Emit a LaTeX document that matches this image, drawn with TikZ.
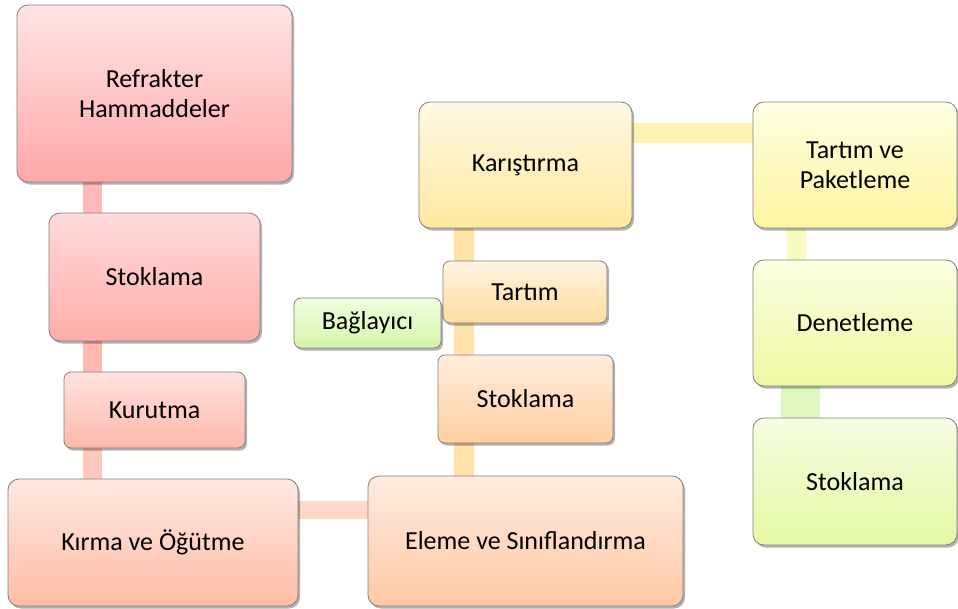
\documentclass[tikz,border=0pt]{standalone}
\usepackage{fontspec}
\setmainfont{Carlito}
\usepackage{tikz}
\usetikzlibrary{shadows, backgrounds}

% colours of the stages (top / bottom of the gradient)
\definecolor{refTop}{HTML}{FFE4E4}   \definecolor{refBot}{HTML}{FFA8A8}
\definecolor{stkaTop}{HTML}{FFDADA}  \definecolor{stkaBot}{HTML}{FFAEA8}
\definecolor{kurTop}{HTML}{FFE3DE}   \definecolor{kurBot}{HTML}{FFB8AA}
\definecolor{kirTop}{HTML}{FFE8E0}   \definecolor{kirBot}{HTML}{FFBCA6}
\definecolor{eleTop}{HTML}{FFEBDF}   \definecolor{eleBot}{HTML}{FFC8A4}
\definecolor{stkbTop}{HTML}{FFEDDD}  \definecolor{stkbBot}{HTML}{FFCFA0}
\definecolor{tarTop}{HTML}{FFF4E0}   \definecolor{tarBot}{HTML}{FFDCA0}
\definecolor{karTop}{HTML}{FFF9E2}   \definecolor{karBot}{HTML}{FFE8A0}
\definecolor{tpTop}{HTML}{FFFFE2}    \definecolor{tpBot}{HTML}{FFF5A0}
\definecolor{denTop}{HTML}{FBFFE2}   \definecolor{denBot}{HTML}{EFF8A0}
\definecolor{stkcTop}{HTML}{F4FFE2}  \definecolor{stkcBot}{HTML}{E3F8A4}
\definecolor{bagTop}{HTML}{EEFFE0}   \definecolor{bagBot}{HTML}{D6F5A8}

\begin{document}
\begin{tikzpicture}[
    x=1pt, y=-1pt,
    stage/.style={
        rectangle, rounded corners=11pt, draw=black!50, line width=0.8pt,
        inner sep=0pt, align=center, font=\fontsize{26}{30}\selectfont,
        drop shadow={shadow xshift=2pt, shadow yshift=-2.5pt, opacity=0.3, fill=black}
    },
    small/.style={stage, rounded corners=7pt},
    link/.style={line width=19pt},
]
\useasboundingbox (0,0) rectangle (958,608);

% Left column: raw materials to grinding
\node[stage, minimum width=275pt, minimum height=177pt, top color=refTop, bottom color=refBot]
    (ref) at (154.5,93.5) {Refrakter\\Hammaddeler};
\node[stage, minimum width=211pt, minimum height=128pt, top color=stkaTop, bottom color=stkaBot]
    (stok1) at (154.5,277) {Stoklama};
\node[small, minimum width=181pt, minimum height=76pt, top color=kurTop, bottom color=kurBot]
    (kurut) at (154.5,410) {Kurutma};
\node[stage, minimum width=290pt, minimum height=127pt, top color=kirTop, bottom color=kirBot]
    (kirma) at (153,542.5) {Kırma ve Öğütme};

% Middle column: screening up to mixing
\node[stage, minimum width=315pt, minimum height=130pt, top color=eleTop, bottom color=eleBot]
    (eleme) at (525.5,541) {Eleme ve Sınıflandırma};
\node[small, minimum width=175pt, minimum height=88pt, top color=stkbTop, bottom color=stkbBot]
    (stok2) at (525.5,399) {Stoklama};
\node[small, minimum width=164pt, minimum height=62pt, top color=tarTop, bottom color=tarBot]
    (tartim) at (525,292) {Tartım};
\node[small, minimum width=147pt, minimum height=50pt, top color=bagTop, bottom color=bagBot]
    (bag) at (367.5,323) {Bağlayıcı};
\node[stage, minimum width=213pt, minimum height=126pt, top color=karTop, bottom color=karBot]
    (karis) at (525.5,165) {Karıştırma};

% Right column: packing to storage
\node[stage, minimum width=204pt, minimum height=126pt, top color=tpTop, bottom color=tpBot]
    (tp) at (855,165) {Tartım ve\\Paketleme};
\node[stage, minimum width=204pt, minimum height=126pt, top color=denTop, bottom color=denBot]
    (denet) at (855,323) {Denetleme};
\node[stage, minimum width=204pt, minimum height=127pt, top color=stkcTop, bottom color=stkcBot]
    (stok3) at (855,481.5) {Stoklama};

% Connectors (behind the boxes)
\coordinate (spineL) at (92.5,0);
\coordinate (spineM) at (463.5,0);
\coordinate (spineR) at (796.5,0);
\coordinate (spineS) at (800.5,0);
\coordinate (rowT) at (0,133);
\coordinate (rowB) at (0,509.5);
\begin{scope}[on background layer]
\draw[link, draw={rgb,255:red,255;green,185;blue,185}] (ref.south -| spineL) -- (stok1.north -| spineL);
\draw[link, draw={rgb,255:red,255;green,185;blue,176}] (stok1.south -| spineL) -- (kurut.north -| spineL);
\draw[link, draw={rgb,255:red,255;green,200;blue,186}] (kurut.south -| spineL) -- (kirma.north -| spineL);
\draw[link, line width=18pt, draw={rgb,255:red,255;green,216;blue,200}] (kirma.east |- rowB) -- (eleme.west |- rowB);
\draw[link, line width=20pt, draw={rgb,255:red,255;green,225;blue,170}] (karis.south -| spineM) -- (eleme.north -| spineM);
\draw[link, line width=20pt, draw={rgb,255:red,255;green,243;blue,178}] (karis.east |- rowT) -- (tp.west |- rowT);
\draw[link, draw={rgb,255:red,248;green,250;blue,192}] (tp.south -| spineR) -- (denet.north -| spineR);
\draw[link, line width=39pt, draw={rgb,255:red,222;green,246;blue,192}] (denet.south -| spineS) -- (stok3.north -| spineS);
\end{scope}

\end{tikzpicture}
\end{document}
